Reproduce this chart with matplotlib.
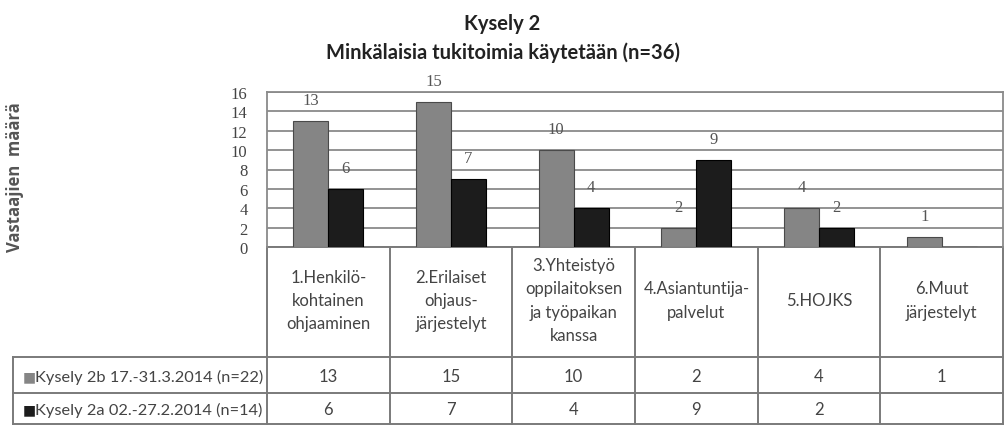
import numpy as np
import matplotlib.pyplot as plt
from matplotlib import transforms

categories = ["1.Henkilö-\nkohtainen\nohjaaminen", "2.Erilaiset\nohjaus-\njärjestelyt",
              "3.Yhteistyö\noppilaitoksen\nja työpaikan\nkanssa", "4.Asiantuntija-\npalvelut",
              "5.HOJKS", "6.Muut\njärjestelyt"]
series_names = ["Kysely 2b 17.-31.3.2014 (n=22)", "Kysely 2a 02.-27.2.2014 (n=14)"]
kysely_2b = [13, 15, 10, 2, 4, 1]
kysely_2a = [6, 7, 4, 9, 2, None]
colors = ["#858585", "#1c1c1c"]
yticks = list(range(0, 17, 2))

W, H = 1005, 427
fig = plt.figure(figsize=(W / 100, H / 100), dpi=100)
ax_left, ax_right, ax_top, ax_bot = 267, 1003, 93, 248
ax = fig.add_axes([ax_left / W, 1 - ax_bot / H, (ax_right - ax_left) / W, (ax_bot - ax_top) / H])

x = np.arange(len(categories))
w = 0.285
vals_a = [v if v is not None else 0 for v in kysely_2a]
ax.bar(x - w / 2, kysely_2b, width=w, color=colors[0], edgecolor="#4a4a4a", linewidth=0.8, zorder=3)
ax.bar(x + w / 2, vals_a, width=w, color=colors[1], edgecolor="#000000", linewidth=0.8, zorder=3)

label_style = dict(ha="center", va="center", fontsize=12, color="#555555", family="Liberation Serif")
for i, v in enumerate(kysely_2b):
    ax.annotate(str(v), (x[i] - w / 2, v), xytext=(0, 15), textcoords="offset points", **label_style)
for i, v in enumerate(kysely_2a):
    if v is not None:
        ax.annotate(str(v), (x[i] + w / 2, v), xytext=(0, 15), textcoords="offset points", **label_style)

ax.set_xlim(-0.5, len(categories) - 0.5)
ax.set_ylim(0, 16)
ax.set_yticks(yticks)
ax.set_yticklabels([str(t) for t in yticks], family="Liberation Serif", fontsize=12, color="#444444")
ax.tick_params(axis="y", length=0, pad=14)
ax.set_xticks([])
ax.grid(axis="y", color="#8a8a8a", linewidth=1.3, zorder=0)
for s in ["left", "top", "right"]:
    ax.spines[s].set_color("#8a8a8a")
    ax.spines[s].set_linewidth(1.3)
ax.spines["bottom"].set_visible(False)

# y label
fig.text(15 / W, 1 - 177 / H, "Vastaajien  määrä", rotation=90, ha="center", va="center",
         fontsize=12, fontweight="bold", color="#555555", family="Open Sans")

# title
fig.text(0.5, 1 - 24 / H, "Kysely 2", ha="center", va="center", fontsize=14.5,
         fontweight="bold", color="#222222", family="Lato")
fig.text(0.5, 1 - 53 / H, "Minkälaisia tukitoimia käytetään (n=36)", ha="center",
         va="center", fontsize=14.5, fontweight="bold", color="#222222", family="Lato")

# data table below axes (x in data coords, y in axes fraction)
trans = transforms.blended_transform_factory(ax.transData, ax.transAxes)
def ay(py):
    return (ax_bot - py) / (ax_bot - ax_top)

unit = (ax_right - ax_left) / len(categories)
y_head_bot, y_r1_bot, y_r2_bot = ay(358), ay(394), ay(425)
x_lab_left = -0.5 - (ax_left - 13) / unit
line_kw = dict(color="#7a7a7a", linewidth=1.4, transform=trans, clip_on=False)

ax.plot([-0.5, 5.5], [0, 0], **line_kw)
for b in np.arange(-0.5, len(categories) + 0.5):
    ax.plot([b, b], [0, y_r2_bot], **line_kw)
ax.plot([x_lab_left, 5.5], [y_head_bot, y_head_bot], **line_kw)
ax.plot([x_lab_left, 5.5], [y_r1_bot, y_r1_bot], **line_kw)
ax.plot([x_lab_left, 5.5], [y_r2_bot, y_r2_bot], **line_kw)
ax.plot([x_lab_left, x_lab_left], [y_head_bot, y_r2_bot], **line_kw)

txt_kw = dict(ha="center", va="center", fontsize=12, color="#444444", family="Lato",
              transform=trans, clip_on=False)
for i, c in enumerate(categories):
    ax.text(x[i], ay(301), c, linespacing=1.55, **txt_kw)

rows = [kysely_2b, kysely_2a]
row_y = [ay(377), ay(410)]
for r, vals in enumerate(rows):
    for i, v in enumerate(vals):
        if v is not None:
            ax.text(x[i], row_y[r], str(v), **txt_kw)
    ax.text(x_lab_left + 10 / unit, row_y[r], "■", ha="left", va="center", fontsize=10,
            color=colors[r], transform=trans, clip_on=False, family="DejaVu Sans")
    ax.text(x_lab_left + 22 / unit, row_y[r], series_names[r], ha="left", va="center",
            fontsize=11.8, color="#444444", family="Lato", transform=trans, clip_on=False)

fig.savefig("out.png", dpi=100)
